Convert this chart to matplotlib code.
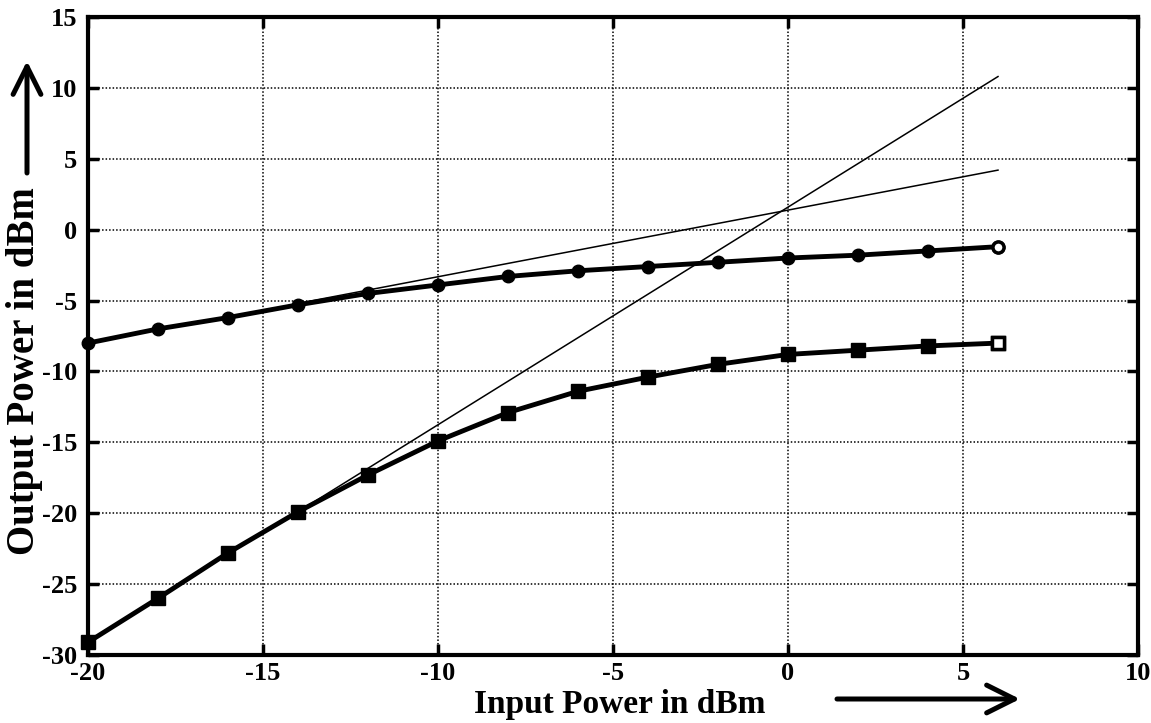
import matplotlib
matplotlib.use("Agg")
import matplotlib.pyplot as plt
from matplotlib.patches import FancyArrowPatch

# ---- data ----
input_power = [-20, -18, -16, -14, -12, -10, -8, -6, -4, -2, 0, 2, 4, 6]
fundamental = [-8.0, -7.0, -6.2, -5.3, -4.5, -3.9, -3.3, -2.9, -2.6, -2.3, -2.0, -1.8, -1.5, -1.2]
third_order = [-29.1, -26.0, -22.8, -19.9, -17.3, -14.9, -12.9, -11.4, -10.4, -9.5, -8.8, -8.5, -8.2, -8.0]
fund_extrap_x = [-14, 6]
fund_extrap_y = [-5.2, 4.2]
im3_extrap_x = [-14, 6]
im3_extrap_y = [-19.9, 10.8]
xticks = [-20, -15, -10, -5, 0, 5, 10]
yticks = [-30, -25, -20, -15, -10, -5, 0, 5, 10, 15]
xlabel = 'Input Power in dBm'
ylabel = 'Output Power in dBm'

plt.rcParams['font.family'] = ['Liberation Serif', 'DejaVu Serif']
plt.rcParams['font.weight'] = 'bold'

W, H = 1151, 723
fig = plt.figure(figsize=(W / 100, H / 100), dpi=100)
ax = fig.add_axes([88 / W, 1 - 655 / H, 1050 / W, 638 / H])

ax.plot(fund_extrap_x, fund_extrap_y, color='black', lw=1.1, zorder=3)
ax.plot(im3_extrap_x, im3_extrap_y, color='black', lw=1.1, zorder=3)

ax.plot(input_power, fundamental, color='black', lw=3.5, marker='o', ms=9,
        mfc='black', mec='black', clip_on=False, zorder=4)
ax.plot(input_power[-1:], fundamental[-1:], ls='none', marker='o', ms=8,
        mfc='white', mec='black', mew=2.5, clip_on=False, zorder=5)
ax.plot(input_power, third_order, color='black', lw=3.5, marker='s', ms=10,
        mfc='black', mec='black', clip_on=False, zorder=4)
ax.plot(input_power[-1:], third_order[-1:], ls='none', marker='s', ms=9,
        mfc='white', mec='black', mew=2.5, clip_on=False, zorder=5)

ax.set_xlim(-20, 10)
ax.set_ylim(-30, 15)
ax.set_xticks(xticks)
ax.set_yticks(yticks)
ax.set_xticklabels([str(v) for v in xticks])
ax.set_yticklabels([str(v) for v in yticks])
ax.grid(True, color='black', ls=(0, (1, 1.3)), lw=1.1)
ax.tick_params(direction='in', length=8, width=2.5, top=True, right=True,
               labelsize=19)
ax.tick_params(axis='x', pad=5)
ax.tick_params(axis='y', pad=8)
for lab in ax.get_xticklabels() + ax.get_yticklabels():
    lab.set_fontweight('bold')
for s in ax.spines.values():
    s.set_linewidth(3)

fig.text(620 / W, 1 - 713 / H, xlabel, fontsize=24, fontweight='bold',
         ha='center', va='baseline')
fig.text(25 / W, 1 - 371 / H, ylabel, fontsize=28, fontweight='bold',
         ha='center', va='center', rotation=90)

# arrows
fig.patches.append(FancyArrowPatch(
    (837 / W, 1 - 699 / H), (1020 / W, 1 - 699 / H),
    transform=fig.transFigure, arrowstyle='->,head_length=0.4,head_width=0.2',
    lw=3.6, color='black', mutation_scale=50, shrinkA=0, shrinkB=0))
fig.patches.append(FancyArrowPatch(
    (27 / W, 1 - 173 / H), (27 / W, 1 - 61 / H),
    transform=fig.transFigure, arrowstyle='->,head_length=0.4,head_width=0.2',
    lw=3.6, color='black', mutation_scale=50, shrinkA=0, shrinkB=0))

fig.savefig('out.png', dpi=100)
